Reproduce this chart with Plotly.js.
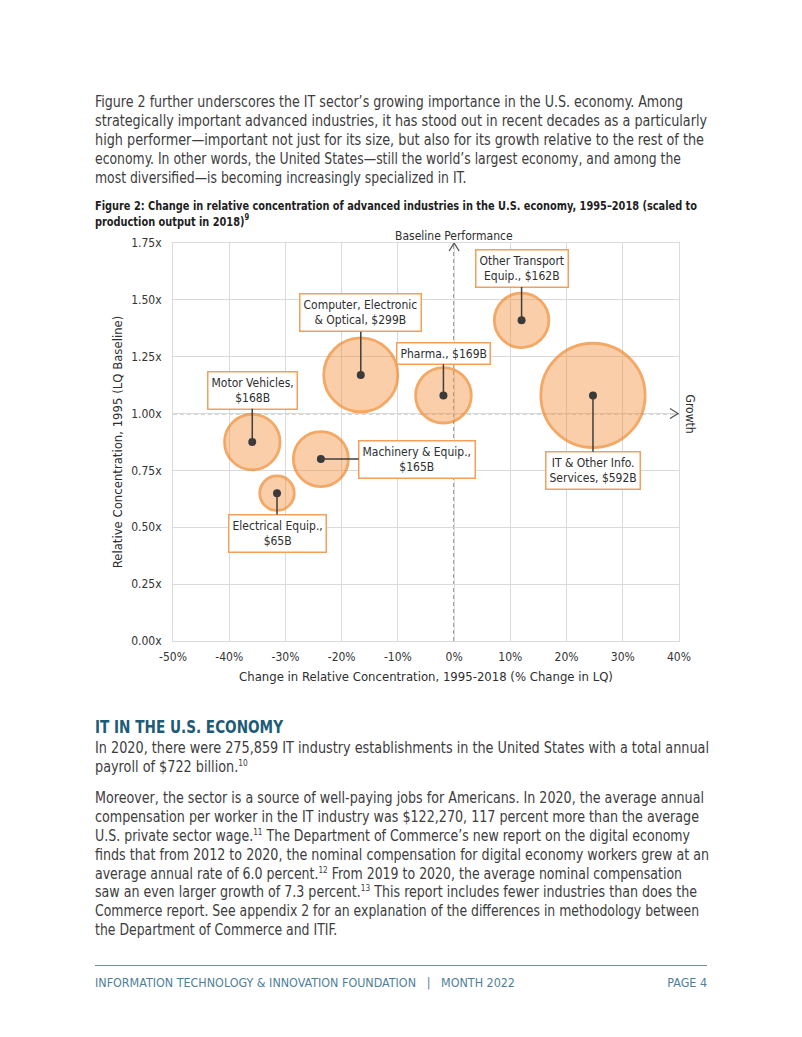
<!DOCTYPE html>
<html>
<head>
<meta charset="utf-8">
<script src="https://cdn.plot.ly/plotly-3.0.1.min.js"></script>
<style>
  html, body { margin:0; padding:0; background:#fff; }
  body { width:802px; height:1037px; position:relative; overflow:hidden;
         font-family:"Liberation Sans Narrow","DejaVu Sans Condensed","Arial Narrow",sans-serif; color:#3d3d3d; }
  .ln { position:absolute; left:95px; white-space:nowrap; font-size:15.5px; line-height:19px; height:19px; transform-origin:0 50%; }
  .cap { position:absolute; left:95px; white-space:nowrap; font-size:13px; font-weight:bold; color:#1e1e1e; line-height:16px; transform-origin:0 50%; }
  .hd { position:absolute; left:95px; top:715px; font-size:18.5px; line-height:24px; font-weight:bold; color:#1d5b78; white-space:nowrap; transform-origin:0 50%; }
  sup { font-size:9px; line-height:0; vertical-align:6px; }
  .rule { position:absolute; left:95px; width:612px; top:965px; height:0; border-top:1.6px solid #6f8c9c; }
  .ft { position:absolute; top:975px; font-size:12.5px; color:#4f7f98; white-space:nowrap; line-height:15px; }
  #chart { position:absolute; left:0; top:190px; width:802px; height:510px; }
</style>
</head>
<body>
<div class="ln" data-w="588" style="top:93px">Figure 2 further underscores the IT sector’s growing importance in the U.S. economy. Among</div>
<div class="ln" data-w="612" style="top:112px">strategically important advanced industries, it has stood out in recent decades as a particularly</div>
<div class="ln" data-w="609" style="top:131px">high performer—important not just for its size, but also for its growth relative to the rest of the</div>
<div class="ln" data-w="586" style="top:150px">economy. In other words, the United States—still the world’s largest economy, and among the</div>
<div class="ln" data-same="1" style="top:169px">most diversified—is becoming increasingly specialized in IT.</div>

<div class="cap" data-w="602" style="top:198px">Figure 2: Change in relative concentration of advanced industries in the U.S. economy, 1995–2018 (scaled to</div>
<div class="cap" data-same="1" style="top:214px">production output in 2018)<sup>9</sup></div>

<div id="chart"></div>

<div class="hd" data-w="188">IT IN THE U.S. ECONOMY</div>
<div class="ln" data-w="614" style="top:739px">In 2020, there were 275,859 IT industry establishments in the United States with a total annual</div>
<div class="ln" data-same="1" style="top:758px">payroll of $722 billion.<sup>10</sup></div>

<div class="ln" data-w="609" style="top:789px">Moreover, the sector is a source of well-paying jobs for Americans. In 2020, the average annual</div>
<div class="ln" data-w="604" style="top:808px">compensation per worker in the IT industry was $122,270, 117 percent more than the average</div>
<div class="ln" data-w="595" style="top:827px">U.S. private sector wage.<sup>11</sup> The Department of Commerce’s new report on the digital economy</div>
<div class="ln" data-w="614" style="top:846px">finds that from 2012 to 2020, the nominal compensation for digital economy workers grew at an</div>
<div class="ln" data-w="587" style="top:865px">average annual rate of 6.0 percent.<sup>12</sup> From 2019 to 2020, the average nominal compensation</div>
<div class="ln" data-w="602" style="top:883px">saw an even larger growth of 7.3 percent.<sup>13</sup> This report includes fewer industries than does the</div>
<div class="ln" data-w="604" style="top:902px">Commerce report. See appendix 2 for an explanation of the differences in methodology between</div>
<div class="ln" data-same="1" style="top:921px">the Department of Commerce and ITIF.</div>

<div class="rule"></div>
<div class="ft" data-w="420" style="left:95px; transform-origin:0 50%">INFORMATION TECHNOLOGY &amp; INNOVATION FOUNDATION &nbsp;&nbsp;|&nbsp;&nbsp; MONTH 2022</div>
<div class="ft" data-same="1" style="right:95px; transform-origin:100% 50%">PAGE 4</div>

<script>
// fit each text line to the width it has on the reference page;
// short (last) lines reuse the scale of the line above them
let lastScale = 1;
document.querySelectorAll('[data-w],[data-same]').forEach(el => {
  const w = el.getBoundingClientRect().width;
  if (el.hasAttribute('data-w') && w > 0) lastScale = parseFloat(el.getAttribute('data-w')) / w;
  el.style.transform = 'scaleX(' + lastScale.toFixed(4) + ')';
});

// ---- data ----
const industries = ['Computer, Electronic & Optical', 'Pharma.', 'Other Transport Equip.',
                    'IT & Other Info. Services', 'Motor Vehicles', 'Machinery & Equip.', 'Electrical Equip.'];
const labelTexts = ['Computer, Electronic<br>& Optical, $299B', 'Pharma., $169B', 'Other Transport<br>Equip., $162B',
                    'IT & Other Info.<br>Services, $592B', 'Motor Vehicles,<br>$168B', 'Machinery & Equip.,<br>$165B',
                    'Electrical Equip.,<br>$65B'];
const output2018 = [299, 169, 162, 592, 168, 165, 65];          // $B, bubble size
const changeLQ = [-16.6, -1.9, 12.0, 24.7, -35.9, -23.7, -31.5]; // % change 1995-2018
const lq1995 = [1.17, 1.08, 1.41, 1.08, 0.875, 0.80, 0.65];      // relative concentration 1995
const xTickVals = [-50, -40, -30, -20, -10, 0, 10, 20, 30, 40];
const xTickText = ['-50%', '-40%', '-30%', '-20%', '-10%', '0%', '10%', '20%', '30%', '40%'];
const yTickVals = [0, 0.25, 0.5, 0.75, 1.0, 1.25, 1.5, 1.75];
const yTickText = ['0.00x', '0.25x', '0.50x', '0.75x', '1.00x', '1.25x', '1.50x', '1.75x'];

// label placement (pixel offsets from each bubble centre to its label box)
const labelOffsets = [[0, -62], [0, -42], [0, -52], [0, 75], [0, -52], [96, 0], [0, 40]];

const FONT = '"Liberation Sans Narrow","DejaVu Sans Condensed","Arial Narrow",sans-serif';

const bubbles = {
  type: 'scatter', mode: 'markers', x: changeLQ, y: lq1995, text: industries,
  marker: { size: output2018, sizemode: 'area', sizeref: 0.109,
            color: 'rgba(243,140,50,0.6)', line: { color: '#ee8424', width: 2.8 } },
  hoverinfo: 'text', cliponaxis: false
};
const dots = {
  type: 'scatter', mode: 'markers', x: changeLQ, y: lq1995,
  marker: { size: 8, color: '#3a3a3a' }, hoverinfo: 'skip', cliponaxis: false
};

const annotations = labelTexts.map((t, i) => ({
  x: changeLQ[i], y: lq1995[i], xref: 'x', yref: 'y', text: t,
  showarrow: true, arrowhead: 0, arrowwidth: 1.5, arrowcolor: '#3f3f3f',
  ax: labelOffsets[i][0], ay: labelOffsets[i][1], standoff: 0,
  bgcolor: '#ffffff', bordercolor: '#f3a05a', borderwidth: 1.5, borderpad: 3,
  font: { family: FONT, size: 12, color: '#2e2e2e' }
}));
annotations.push({
  x: 0, y: 1.75, xref: 'x', yref: 'y', yanchor: 'bottom', yshift: -2, showarrow: false,
  text: 'Baseline Performance', font: { family: FONT, size: 12, color: '#2e2e2e' }
});
annotations.push({
  x: 1, y: 1.0, xref: 'paper', yref: 'y', xanchor: 'left', xshift: 2, showarrow: false, textangle: 90,
  text: 'Growth', font: { family: FONT, size: 12, color: '#2e2e2e' }
});

const refLine = { color: '#555555', width: 1.3, dash: '4px,3px' };
const shapes = [
  { type: 'line', xref: 'x', yref: 'y', x0: 0, x1: 0, y0: 0, y1: 1.75, line: refLine, layer: 'below' },
  { type: 'line', xref: 'x', yref: 'y', x0: -50, x1: 40, y0: 1.0, y1: 1.0, line: refLine, layer: 'below' },
  { type: 'path', xref: 'x', yref: 'y', xsizemode: 'pixel', ysizemode: 'pixel', xanchor: 0, yanchor: 1.75,
    path: 'M-5,-8 L0,0 L5,-8', line: { color: '#555555', width: 1.3 } },
  { type: 'path', xref: 'x', yref: 'y', xsizemode: 'pixel', ysizemode: 'pixel', xanchor: 40, yanchor: 1.0,
    path: 'M-9,5 L-1,0 L-9,-5', line: { color: '#555555', width: 1.3 } }
];

const axisCommon = {
  showgrid: true, gridcolor: '#dadada', gridwidth: 1, zeroline: false,
  showline: true, mirror: true, linecolor: '#dadada', linewidth: 1,
  ticks: 'outside', tickcolor: 'rgba(0,0,0,0)', fixedrange: true,
  tickfont: { family: FONT, size: 12, color: '#333' }
};

const layout = {
  width: 802, height: 510,
  margin: { l: 173, r: 123, t: 53, b: 59 },
  paper_bgcolor: 'rgba(0,0,0,0)', plot_bgcolor: '#ffffff',
  showlegend: false,
  xaxis: Object.assign({}, axisCommon, {
    range: [-50, 40], tickvals: xTickVals, ticktext: xTickText, ticklen: 5,
    title: { text: 'Change in Relative Concentration, 1995-2018 (% Change in LQ)', standoff: 8,
             font: { family: FONT, size: 13, color: '#2e2e2e' } }
  }),
  yaxis: Object.assign({}, axisCommon, {
    range: [0, 1.75], tickvals: yTickVals, ticktext: yTickText, ticklen: 8,
    title: { text: 'Relative Concentration, 1995 (LQ Baseline)', standoff: 5,
             font: { family: FONT, size: 13, color: '#2e2e2e' } }
  }),
  shapes: shapes,
  annotations: annotations
};

Plotly.newPlot('chart', [bubbles, dots], layout, { displayModeBar: false, staticPlot: true });
</script>
</body>
</html>
